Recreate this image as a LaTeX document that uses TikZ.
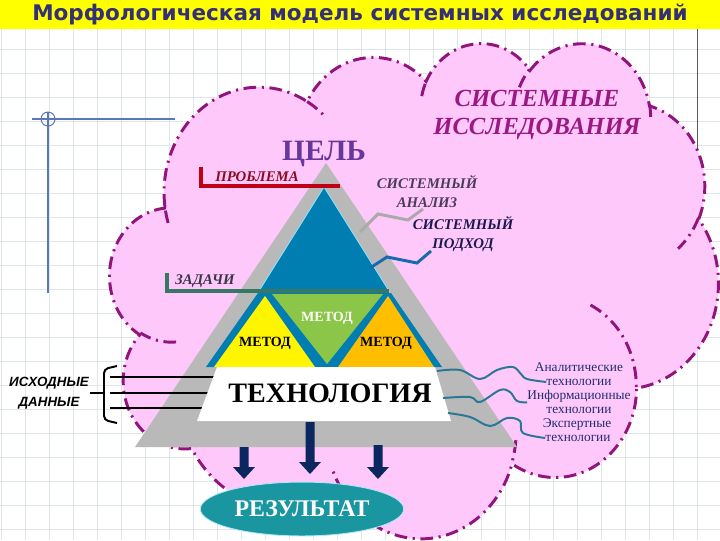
\documentclass[tikz,border=0pt]{standalone}
\usepackage{fontspec}
\setmainfont{Liberation Serif}
\newfontfamily\headfont{DejaVu Sans}
\newfontfamily\labelsans{Liberation Sans}
\usetikzlibrary{shapes.geometric}

\definecolor{gridline}{RGB}{222,230,234}
\definecolor{titleyellow}{RGB}{255,255,0}
\definecolor{titleblue}{RGB}{52,48,120}
\definecolor{lineblue}{RGB}{90,120,185}
\definecolor{cloudpink}{RGB}{255,200,250}
\definecolor{cloudline}{RGB}{145,20,125}
\definecolor{pyrgrey}{RGB}{185,185,185}
\definecolor{pyrblue}{RGB}{0,126,178}
\definecolor{pyrcyan}{RGB}{150,225,245}
\definecolor{metyellow}{RGB}{255,245,0}
\definecolor{metgreen}{RGB}{140,198,72}
\definecolor{metorange}{RGB}{255,190,0}
\definecolor{goalpurple}{RGB}{105,55,155}
\definecolor{resmagenta}{RGB}{155,25,130}
\definecolor{probred}{RGB}{190,0,20}
\definecolor{probtext}{RGB}{140,10,30}
\definecolor{taskline}{RGB}{55,120,100}
\definecolor{tasktext}{RGB}{55,55,70}
\definecolor{analgrey}{RGB}{170,170,170}
\definecolor{analtext}{RGB}{75,60,90}
\definecolor{apprblue}{RGB}{25,105,175}
\definecolor{apprtext}{RGB}{25,25,80}
\definecolor{wavyteal}{RGB}{40,120,150}
\definecolor{techtext}{RGB}{30,45,110}
\definecolor{arrownavy}{RGB}{10,40,95}
\definecolor{resultteal}{RGB}{25,150,160}

\begin{document}
\begin{tikzpicture}[x=0.025cm,y=-0.025cm,
  declare function={ooang(\rw,\rh,\ang)=atan2(\rw*sin(\ang),\rh*cos(\ang))-360*round((atan2(\rw*sin(\ang),\rh*cos(\ang))-\ang)/360);},
  oarc/.style n args={4}{x radius=#1,y radius=#2,start angle={ooang(#1,#2,#3)},end angle={ooang(#1,#2,#3+#4)}},
  cloudedge/.style={draw=cloudline,line width=2.1pt,dash pattern=on 9pt off 4pt on 1.5pt off 4pt},
  sublbl/.style={font=\bfseries\itshape\fontsize{10.5}{13.5}\selectfont,align=center,inner sep=0pt},
  metlbl/.style={font=\bfseries\fontsize{10}{11}\selectfont,inner sep=0pt},
  techlbl/.style={font=\fontsize{9.5}{10}\selectfont,text=techtext,inner sep=0pt},
  wavy/.style={wavyteal,line width=1.4pt},
  blockarrow/.style={fill=arrownavy}]
\useasboundingbox (0,0) rectangle (720,540);

% background sheet
\fill[white] (0,0) rectangle (720,540);
\foreach \gx in {1,25,...,721} \draw[gridline,line width=0.7pt] (\gx,29) -- (\gx,540);
\foreach \gy in {49,73,...,529} \draw[gridline,line width=0.7pt] (0,\gy) -- (720,\gy);
\fill[titleyellow] (0,0) rectangle (720,29);
\node[inner sep=0pt,text=titleblue] (title) at (360,15)
  {\headfont\bfseries\fontsize{15.3}{17}\selectfont Морфологическая модель системных исследований};

\draw[lineblue,line width=0.9pt] (32,119) -- (175,119);
\draw[lineblue,line width=0.9pt] (48,112) -- (48,293);
\draw[lineblue,line width=0.7pt] (48,119) circle (7);
\draw[gray!70!black,line width=0.7pt] (697,29) -- (697,170);

% cloud
\begin{scope}[shift={(110,42)},x=0.035185cm,y=-0.028646cm]
\path[fill=cloudpink,cloudedge] (39.00,143.70)
  arc[oarc={67.53}{91.90}{-190.4875}{123.7805}]
  arc[oarc={53.33}{72.67}{-144.1024}{89.9452}]
  arc[oarc={43.65}{59.45}{-145.8079}{99.7230}]
  arc[oarc={48.57}{65.95}{-130.9861}{117.2417}]
  arc[oarc={53.33}{72.73}{-78.7089}{109.0269}]
  arc[oarc={67.75}{92.20}{-46.2673}{130.2690}]
  arc[oarc={57.85}{78.67}{0.6250}{114.0333}]
  arc[oarc={67.52}{92.15}{22.4516}{115.1726}]
  arc[oarc={77.20}{105.43}{66.2426}{75.7110}]
  arc[oarc={43.60}{59.18}{-274.9421}{146.7356}]
  arc[oarc={43.45}{59.45}{-246.8285}{152.5189}]
  -- cycle;
\draw[cloudedge]
  (46.93,261.77) arc[oarc={43.45}{59.45}{86.7420}{26.4295}]
  (69.28,348.99) arc[oarc={43.60}{59.18}{73.6105}{11.4475}]
  (164.78,390.90) arc[oarc={67.52}{92.15}{137.6242}{14.0811}]
  (288.27,347.51) arc[oarc={67.52}{92.15}{6.4533}{15.9984}]
  (341.29,229.54) arc[oarc={57.85}{78.67}{-70.2924}{70.9174}]
  (417.98,153.54) arc[oarc={53.33}{72.73}{30.3180}{27.7515}]
  (383.24,54.26) arc[oarc={48.57}{65.95}{-13.7443}{14.8589}]
  (290.78,39.52) arc[oarc={48.57}{65.95}{-149.1815}{18.1954}]
  (221.41,47.20) arc[oarc={43.65}{59.45}{-163.4943}{17.6864}]
  (140.00,51.92) arc[oarc={67.53}{91.90}{-66.7070}{12.3194}]
  (41.27,157.89) arc[oarc={67.53}{91.90}{157.6544}{11.8582}];
\end{scope}

% pyramid
\fill[pyrgrey] (326,163) -- (135,447) -- (517,447) -- cycle;
\draw[pyrcyan,fill=pyrblue,line width=0.6pt] (324,187) -- (259,291) -- (389,291) -- cycle;
\fill[pyrblue] (258,293) -- (391,293) -- (442,367) -- (206,367) -- cycle;
\fill[metyellow] (265,296) -- (214,367) -- (315,367) -- cycle;
\fill[metgreen] (272,294) -- (383,294) -- (327,364) -- cycle;
\fill[metorange] (388,296) -- (338,367) -- (434,367) -- cycle;

% source data lines
\draw[black,line width=2.1pt] (110,377) -- (218,377);
\draw[black,line width=2.1pt] (110,393) -- (208,393);
\draw[black,line width=2.1pt] (110,408) -- (203,408);
\fill[white] (217,367) -- (435,367) -- (451,421) -- (197,421) -- cycle;

\node[metlbl] (method1) at (265,343) {МЕТОД};
\node[metlbl,text=white] (method2) at (327,318) {МЕТОД};
\node[metlbl] (method3) at (386,343) {МЕТОД};
\node[inner sep=0pt,font=\bfseries\fontsize{20}{22}\selectfont] (techn) at (330,393) {ТЕХНОЛОГИЯ};

% labels
\node[inner sep=0pt,text=goalpurple,font=\bfseries\fontsize{21}{22}\selectfont] (goal) at (324,154) {ЦЕЛЬ};
\node[inner sep=0pt,text=resmagenta,align=center,font=\bfseries\itshape\fontsize{17.5}{20}\selectfont] (sysres) at (537,115)
  {СИСТЕМНЫЕ\\ИССЛЕДОВАНИЯ};
\node[sublbl,text=probtext] (problem) at (257,177) {ПРОБЛЕМА};
\node[sublbl,text=tasktext] (tasks) at (205,281) {ЗАДАЧИ};
\node[sublbl,text=analtext] (sysanal) at (427,192) {СИСТЕМНЫЙ\\АНАЛИЗ};
\node[sublbl,text=apprtext] (sysappr) at (463,234) {СИСТЕМНЫЙ\\ПОДХОД};
\node[inner sep=0pt,align=center,font=\labelsans\bfseries\itshape\fontsize{9.5}{14}\selectfont] (srcdata) at (49,393)
  {ИСХОДНЫЕ\\ДАННЫЕ};

\draw[probred,line width=2.2pt] (201,167) -- (201,186) -- (340,186);
\draw[taskline,line width=2.2pt] (167,273) -- (167,291) -- (389,291);

\coordinate (anal-in) at (360,232);
\coordinate (anal-out) at (423,209);
\draw[analgrey,line width=2.1pt] (anal-in) -- (378,214) -- (408,220) -- (anal-out);
\coordinate (appr-in) at (370,268);
\coordinate (appr-out) at (431,251);
\draw[apprblue,line width=2.1pt] (appr-in) -- (387,257) -- (417,263) -- (appr-out);

% bracket
\draw[black,line width=1.4pt,rounded corners=3pt] (117,366) -- (104,369) -- (104,420) -- (117,423);
\draw[black,line width=1.4pt] (90,393) -- (104,393);

% technologies
\node[techlbl] (tech1a) at (579,367) {Аналитические};
\node[techlbl] (tech1b) at (579,382) {технологии};
\node[techlbl] (tech2a) at (579,396) {Информационные};
\node[techlbl] (tech2b) at (579,410) {технологии};
\node[techlbl] (tech3a) at (577,424) {Экспертные};
\node[techlbl] (tech3b) at (578,438) {технологии};

\draw[wavy] plot[smooth,tension=0.6] coordinates {(437,371) (460,370) (480,379) (497,370) (513,367) (521,374) (527,379) (tech1b.west)};
\draw[wavy] plot[smooth,tension=0.6] coordinates {(443,398) (470,397) (480,402) (500,390) (510,392) (517,401) (tech2a.south west)};
\draw[wavy] plot[smooth,tension=0.6] coordinates {(448,413) (470,417) (490,426) (507,418) (520,421) (523,433) (tech3b.west)};

% arrows to result
\foreach \ax/\ay/\tipy in {244/447/479,310/422/474,378/445/479}
  \fill[blockarrow] (\ax-4.5,\ay) -- (\ax+4.5,\ay) -- (\ax+4.5,\tipy-12) -- (\ax+11,\tipy-12)
    -- (\ax,\tipy) -- (\ax-11,\tipy-12) -- (\ax-4.5,\tipy-12) -- cycle;

\node[ellipse,fill=resultteal,draw=white!70!cyan,line width=0.6pt,minimum width=144.6pt,minimum height=38.3pt,inner sep=0pt,
  text=white,font=\bfseries\fontsize{17}{18}\selectfont] (result) at (302,509) {РЕЗУЛЬТАТ};
\end{tikzpicture}
\end{document}
